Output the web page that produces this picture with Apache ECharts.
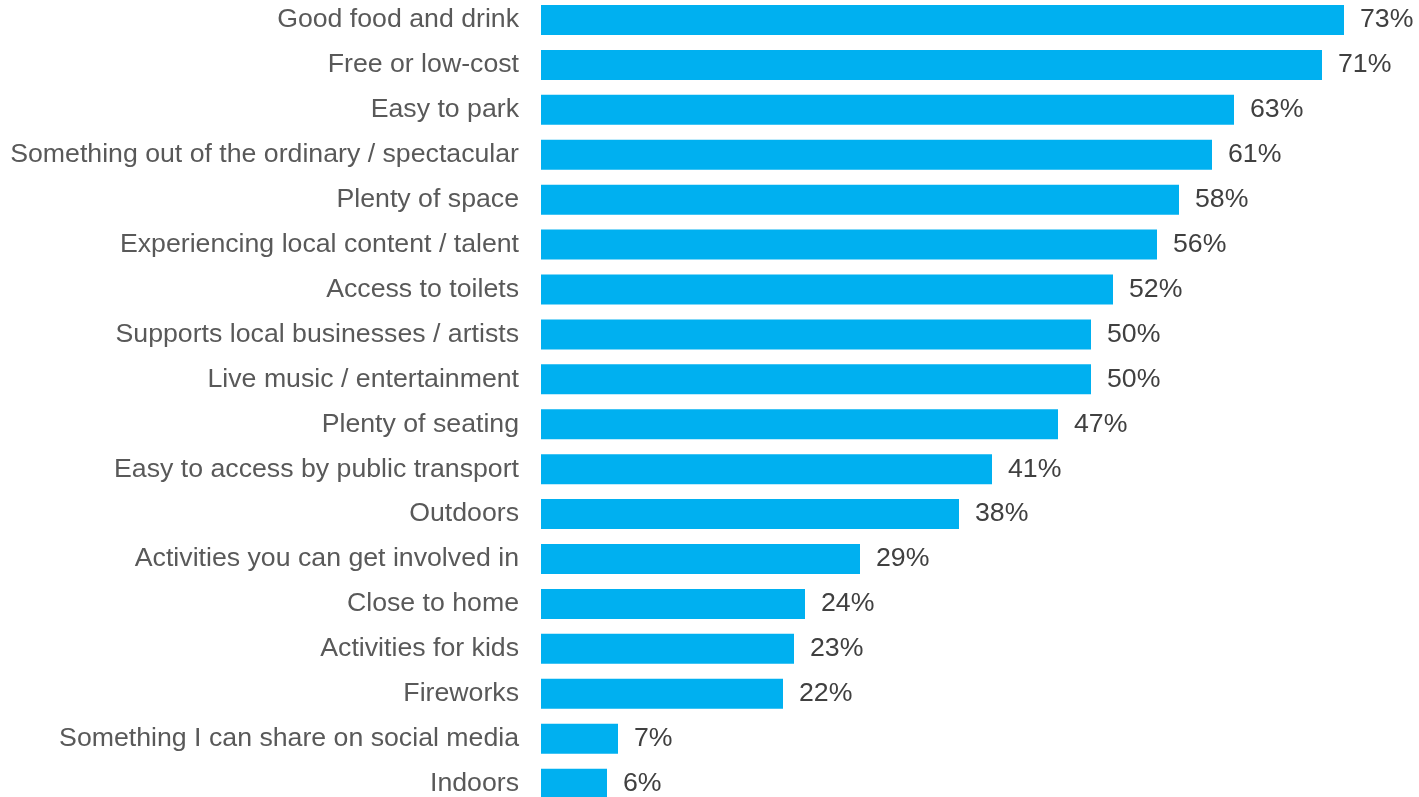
<!DOCTYPE html>
<html>
<head>
<meta charset="utf-8">
<script src="https://cdn.jsdelivr.net/npm/echarts@6/dist/echarts.min.js"></script>
<style>
html,body{margin:0;padding:0;background:#fff;}
#chart{width:1419px;height:797px;}
</style>
</head>
<body>
<div id="chart"></div>
<script>
const categories = [
  "Good food and drink",
  "Free or low-cost",
  "Easy to park",
  "Something out of the ordinary / spectacular",
  "Plenty of space",
  "Experiencing local content / talent",
  "Access to toilets",
  "Supports local businesses / artists",
  "Live music / entertainment",
  "Plenty of seating",
  "Easy to access by public transport",
  "Outdoors",
  "Activities you can get involved in",
  "Close to home",
  "Activities for kids",
  "Fireworks",
  "Something I can share on social media",
  "Indoors"
];
const values = [73, 71, 63, 61, 58, 56, 52, 50, 50, 47, 41, 38, 29, 24, 23, 22, 7, 6];

const chart = echarts.init(document.getElementById('chart'), null, {renderer: 'canvas'});
chart.setOption({
  animation: false,
  backgroundColor: '#ffffff',
  grid: {
    left: 541,
    top: -2.5,
    width: 880,
    height: 808.6,
    containLabel: false,
    outerBoundsMode: 'none'
  },
  xAxis: {
    type: 'value',
    min: 0,
    max: 80,
    show: false
  },
  yAxis: {
    type: 'category',
    data: categories,
    inverse: true,
    axisLine: {show: false},
    axisTick: {show: false},
    splitLine: {show: false},
    axisLabel: {
      margin: 22,
      color: '#595959',
      fontFamily: 'Liberation Sans, Arial, sans-serif',
      fontSize: 26.7,
      padding: [4, 0, 0, 0]
    }
  },
  series: [{
    type: 'bar',
    data: values,
    barWidth: 30,
    itemStyle: {color: '#00B0F0'},
    label: {
      show: true,
      position: 'right',
      distance: 16,
      formatter: '{c}%',
      color: '#404040',
      fontFamily: 'Liberation Sans, Arial, sans-serif',
      fontSize: 26.7,
      padding: [4, 0, 0, 0]
    }
  }]
});
</script>
</body>
</html>
